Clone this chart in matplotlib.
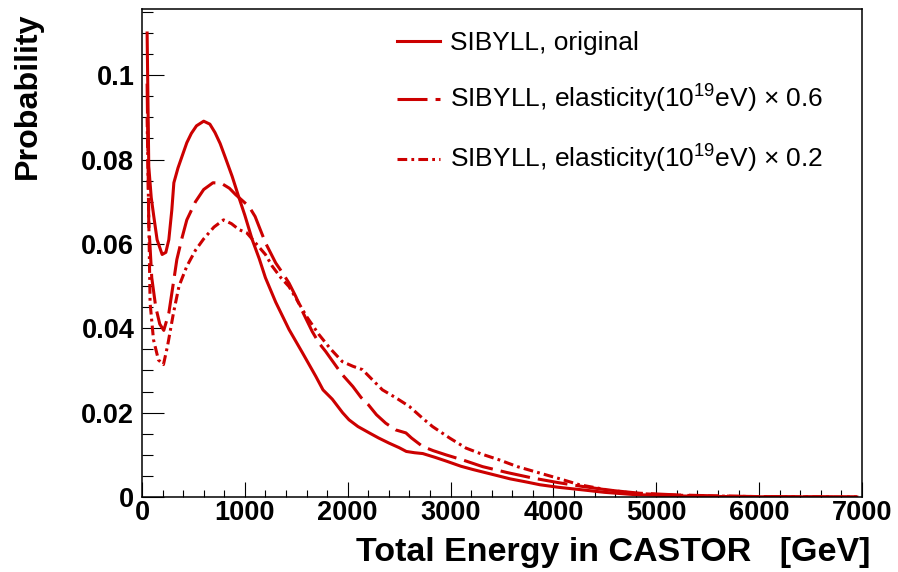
import matplotlib.pyplot as plt
import numpy as np
from matplotlib.ticker import MultipleLocator, FuncFormatter

plt.rcParams['font.family'] = ['Liberation Sans', 'DejaVu Sans']
plt.rcParams['mathtext.default'] = 'regular'
plt.rcParams['lines.scale_dashes'] = False

# SIBYLL, original
e_orig = [50, 66, 90, 115, 147, 196, 232, 261, 290, 310, 350, 390, 436, 480, 530, 600, 660,
          710, 760, 810, 877, 940, 1000, 1072, 1140, 1200, 1300, 1430, 1560, 1690, 1760,
          1850, 1950, 2013, 2100, 2210, 2300, 2400, 2500, 2570, 2650, 2730, 2850, 2960, 3100,
          3220, 3400, 3580, 3750, 3870, 4050, 4280, 4500, 4770, 5100, 5500, 6000, 6500, 6950]
p_orig = [0.110, 0.0784, 0.0710, 0.0665, 0.0610, 0.0575, 0.0580, 0.0610, 0.0680, 0.0745,
          0.0780, 0.0808, 0.0840, 0.0862, 0.0880, 0.0891, 0.0884, 0.0864, 0.0838, 0.0805,
          0.0760, 0.0712, 0.0668, 0.0610, 0.0565, 0.0520, 0.0462, 0.0397, 0.0342, 0.0286,
          0.0254, 0.0232, 0.0200, 0.0183, 0.0167, 0.0152, 0.0140, 0.0128, 0.0117, 0.0108,
          0.0105, 0.0103, 0.0094, 0.0085, 0.0073, 0.0065, 0.0054, 0.0043, 0.0035, 0.0029,
          0.0023, 0.0017, 0.0011, 0.0006, 0.0003, 0.00015, 0.00006, 0.00003, 0.00001]

# elasticity x 0.6
e_06 = [50, 66, 95, 134, 173, 212, 261, 310, 339, 390, 436, 520, 600, 690, 770, 850, 910,
        975, 1040, 1100, 1137, 1202, 1300, 1370, 1430, 1494, 1560, 1656, 1721, 1786, 1900,
        1948, 2050, 2130, 2200, 2280, 2370, 2468, 2566, 2620, 2727, 2830, 2955, 3117, 3312,
        3550, 3798, 4050, 4283, 4550, 4838, 5200, 5600, 6000, 6500, 6950]
p_06 = [0.098, 0.065, 0.052, 0.045, 0.041, 0.0395, 0.0436, 0.0515, 0.0563, 0.0615, 0.0657,
        0.0700, 0.0729, 0.0745, 0.0744, 0.0732, 0.0717, 0.0703, 0.0689, 0.0665, 0.0642,
        0.0602, 0.0555, 0.0530, 0.0507, 0.0476, 0.0440, 0.0392, 0.0365, 0.0345, 0.0306,
        0.0290, 0.0262, 0.0236, 0.0219, 0.0195, 0.0175, 0.0159, 0.0152, 0.0140, 0.0120,
        0.0110, 0.0100, 0.0088, 0.0072, 0.0058, 0.0045, 0.0034, 0.0025, 0.0016, 0.0009,
        0.0005, 0.00025, 0.0001, 0.00004, 0.00001]

# elasticity x 0.2
e_02 = [50, 79, 112, 160, 209, 250, 306, 360, 436, 520, 600, 700, 793, 870, 943, 1020,
        1105, 1200, 1267, 1350, 1429, 1500, 1600, 1721, 1830, 1948, 2050, 2143, 2240, 2338,
        2470, 2598, 2727, 2825, 2990, 3150, 3300, 3474, 3650, 3864, 4050, 4254, 4500, 4770,
        5100, 5500, 6000, 6500, 6950]
p_02 = [0.090, 0.046, 0.0373, 0.0325, 0.0314, 0.0360, 0.0436, 0.0500, 0.0547, 0.0585,
        0.0612, 0.0640, 0.0657, 0.0648, 0.0634, 0.0626, 0.0602, 0.0575, 0.0547, 0.0520,
        0.0499, 0.0470, 0.0428, 0.0385, 0.0352, 0.0321, 0.0310, 0.0302, 0.0278, 0.0254,
        0.0235, 0.0215, 0.0187, 0.0167, 0.0140, 0.0116, 0.0102, 0.0088, 0.0072, 0.0057,
        0.0044, 0.0029, 0.0018, 0.0009, 0.0005, 0.00025, 0.0001, 0.00004, 0.00001]

labels = ['SIBYLL, original',
          r'SIBYLL, elasticity(10$^{19}$eV) × 0.6',
          r'SIBYLL, elasticity(10$^{19}$eV) × 0.2']

red = '#cc0000'

fig = plt.figure(figsize=(8.98, 5.72), dpi=100)
ax = fig.add_axes([0.1581, 0.1311, 0.8018, 0.8532])

ax.plot(e_orig, p_orig, color=red, lw=2.2, label=labels[0])
ax.plot(e_06, p_06, color=red, lw=2.2, dashes=(21.6, 5.8), dash_capstyle='butt', label=labels[1])
ax.plot(e_02, p_02, color=red, lw=2.2, dashes=(7, 3, 2, 3), dash_capstyle='butt', label=labels[2])

ax.set_xlim(0, 7000)
ax.set_ylim(0, 0.1157)

ax.xaxis.set_major_locator(MultipleLocator(1000))
ax.xaxis.set_minor_locator(MultipleLocator(200))
ax.yaxis.set_major_locator(MultipleLocator(0.02))
ax.yaxis.set_minor_locator(MultipleLocator(0.005))
ax.yaxis.set_major_formatter(FuncFormatter(lambda v, p: '%g' % round(v, 4)))

ax.tick_params(axis='x', which='major', direction='in', length=10.8, width=0.8, pad=2.5,
               labelsize=19.5)
ax.tick_params(axis='x', which='minor', direction='in', length=5.2, width=0.8)
ax.tick_params(axis='y', which='major', direction='in', length=15.6, width=0.8, pad=5.5,
               labelsize=19.5)
ax.tick_params(axis='y', which='minor', direction='in', length=7.8, width=0.8)
for lab in ax.get_xticklabels() + ax.get_yticklabels():
    lab.set_fontweight('bold')
for sp in ax.spines.values():
    sp.set_linewidth(1.1)

ax.set_xlabel('Total Energy in CASTOR   [GeV]', fontsize=24.5, fontweight='bold')
ax.xaxis.set_label_coords(1.011, -0.082)
ax.xaxis.label.set_ha('right')
ax.set_ylabel('Probability', fontsize=23.2, fontweight='bold')
ax.yaxis.set_label_coords(-0.138, 0.992)
ax.yaxis.label.set_ha('right')

ax.legend(loc='upper left', bbox_to_anchor=(397 / 898, 1 - 31 / 572),
          bbox_transform=fig.transFigure, frameon=False, fontsize=19,
          handlelength=1.62, handletextpad=0.38, labelspacing=1.06,
          borderpad=0, borderaxespad=0)

fig.savefig('out.png', dpi=100)
